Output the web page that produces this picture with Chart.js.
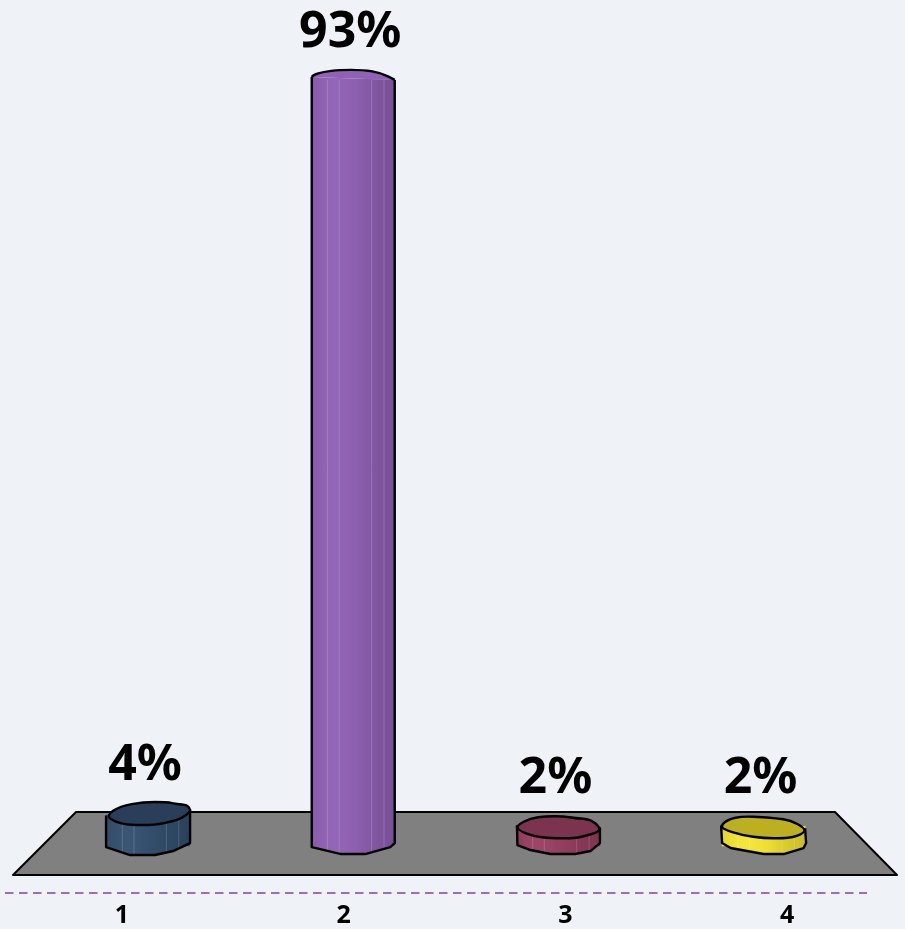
<!DOCTYPE html>
<html>
<head>
<meta charset="utf-8">
<title>Chart</title>
<script src="https://cdn.jsdelivr.net/npm/chart.js@4"></script>
<style>
  html, body { margin: 0; padding: 0; background: #eff3f8; }
  #wrap { position: relative; width: 905px; height: 929px; }
</style>
</head>
<body>
<div id="wrap"><canvas id="barChart"></canvas></div>
<script>
var categories = [1, 2, 3, 4];
var tickLabels = ['1', '2', '3', '4'];
var values = [3.7, 93, 2.4, 2.4];
var barColors = ['#34506f', '#9161b5', '#9a3f63', '#f5e633'];
var topColors = ['#2b3e59', null, '#7b334f', '#bdb020'];

// irregular outlines of the cylinders, offsets from the bar's own top / base
var topShapes = [
    [[-42,0],[-28,-9.5],[-5,-13.5],[19,-13.5],[29,-11.5],[39,-10.5],[42,-6.5],[42,-3.5],[34,2.5],[25,5.5],[7,9.5],[-18,9.5],[-33,6.5]],
    [[-41.5,-3],[-40,-5],[-30,-8],[-14,-10],[10,-10],[28,-7],[41.5,0]],
    [[-41.5,-1],[-28,-8],[-13,-10],[5,-10],[17,-8],[32,-7],[41.5,1],[40,6],[25,10],[17,12],[-8,12],[-25,10],[-40,4]],
    [[-42.5,-1],[-35,-7],[-21,-10],[0,-9],[12,-8],[27,-6],[41.5,2],[40,7],[29,11],[20,12],[0,12],[-21,9],[-40,3]]
];
var bottomShapes = [
    [[-42,1],[-18,9],[7,9],[25,5],[42,-3]],
    [[-41.5,1],[-12,8],[12,8],[37,1],[41.5,-3]],
    [[-41,-1],[-28,4],[-8,8],[17,8],[32,5],[41.5,-3]],
    [[-41.5,-3],[-33,2],[0,8],[20,8],[40,2],[42.5,-3]]
];
var streaks = [0.19, 0.33, 0.72, 0.87];
var labelLift = [36, 33, 33, 33];

function lineThrough(ctx, pts, cx, cy) {
    pts.forEach(function(p) { ctx.lineTo(cx + p[0], cy + p[1]); });
}

// soft outline through the shape's points
function smoothOutline(ctx, pts, cx, cy, closed) {
    var n = pts.length;
    if (closed) {
        ctx.moveTo(cx + (pts[n - 1][0] + pts[0][0]) / 2, cy + (pts[n - 1][1] + pts[0][1]) / 2);
    } else {
        ctx.moveTo(cx + pts[0][0], cy + pts[0][1]);
    }
    for (var i = closed ? 0 : 1; i < n - (closed ? 0 : 1); i++) {
        var next = pts[(i + 1) % n];
        ctx.quadraticCurveTo(cx + pts[i][0], cy + pts[i][1],
            cx + (pts[i][0] + next[0]) / 2, cy + (pts[i][1] + next[1]) / 2);
    }
    if (closed) ctx.closePath();
    else ctx.lineTo(cx + pts[n - 1][0], cy + pts[n - 1][1]);
}

// floor and the dashed axis line, under the bars
var floorPlugin = {
    id: 'floor',
    beforeDatasetsDraw: function(chart) {
        var ctx = chart.ctx, axis = chart.scales.xTicks;
        ctx.save();
        ctx.beginPath();
        ctx.moveTo(13, 875);
        ctx.lineTo(76, 812);
        ctx.lineTo(835, 812);
        ctx.lineTo(897, 875);
        ctx.closePath();
        ctx.fillStyle = '#808080';
        ctx.fill();
        ctx.strokeStyle = '#000';
        ctx.lineWidth = 2;
        ctx.lineJoin = 'round';
        ctx.stroke();

        ctx.beginPath();
        ctx.moveTo(5, axis.top);
        ctx.lineTo(867, axis.top);
        ctx.strokeStyle = '#9b6cc0';
        ctx.setLineDash([8.5, 5.5]);
        ctx.stroke();
        ctx.restore();
    }
};

// cylinder look and the % labels on top of the plain bars
var cylinderPlugin = {
    id: 'cylinder',
    afterDatasetsDraw: function(chart) {
        var ctx = chart.ctx;
        chart.getDatasetMeta(0).data.forEach(function(bar, i) {
            var top = topShapes[i], bottom = bottomShapes[i];
            var w = bar.width, left = bar.x - w / 2;
            var right = top.reduce(function(a, b) { return b[0] > a[0] ? b : a; });

            ctx.save();
            ctx.lineJoin = 'round';

            // side wall
            ctx.beginPath();
            ctx.moveTo(bar.x + top[0][0], bar.y + top[0][1]);
            lineThrough(ctx, bottom, bar.x, bar.base);
            ctx.lineTo(bar.x + right[0], bar.y + right[1]);
            ctx.closePath();
            ctx.fillStyle = barColors[i];
            ctx.fill();

            // darker right hand side
            var shade = ctx.createLinearGradient(left, 0, left + w, 0);
            shade.addColorStop(0, 'rgba(0,0,0,0.07)');
            shade.addColorStop(0.3, 'rgba(255,255,255,0.03)');
            shade.addColorStop(0.55, 'rgba(0,0,0,0.03)');
            shade.addColorStop(0.72, 'rgba(0,0,0,0.1)');
            shade.addColorStop(1, 'rgba(0,0,0,0.18)');
            ctx.save();
            ctx.clip();
            ctx.fillStyle = shade;
            ctx.fillRect(left - 3, bar.y - 20, w + 6, bar.base - bar.y + 40);
            ctx.strokeStyle = 'rgba(255,255,255,0.16)';
            ctx.lineWidth = 1;
            streaks.forEach(function(f) {
                ctx.beginPath();
                ctx.moveTo(left + w * f, bar.y);
                ctx.lineTo(left + w * f, bar.base + 10);
                ctx.stroke();
            });
            ctx.restore();

            ctx.strokeStyle = '#000';
            ctx.lineWidth = 2.4;
            ctx.beginPath();
            ctx.moveTo(bar.x + top[0][0], bar.y + top[0][1]);
            lineThrough(ctx, bottom, bar.x, bar.base);
            ctx.lineTo(bar.x + right[0], bar.y + right[1]);
            ctx.stroke();

            // top face
            ctx.beginPath();
            smoothOutline(ctx, top, bar.x, bar.y, !!topColors[i]);
            ctx.fillStyle = topColors[i] || barColors[i];
            ctx.fill();
            ctx.stroke();
            ctx.restore();

            // value label
            ctx.save();
            ctx.fillStyle = '#000';
            ctx.font = 'bold 50px "Noto Sans"';
            ctx.textAlign = 'center';
            ctx.textBaseline = 'alphabetic';
            ctx.fillText(Math.round(values[i]) + '%', bar.x - 3, bar.y - labelLift[i]);
            ctx.restore();
        });
    }
};

var ctxBar = document.getElementById('barChart').getContext('2d');
var barChart = new Chart(ctxBar, {
    type: 'bar',
    data: {
        labels: tickLabels,
        datasets: [{
            data: categories.map(function(c, i) { return { x: c, y: values[i] }; }),
            backgroundColor: barColors,
            barThickness: 83,
            xAxisID: 'x',
            yAxisID: 'y'
        }]
    },
    options: {
        responsive: true,
        maintainAspectRatio: false,
        animation: false,
        layout: { padding: { left: 11, right: 7, top: 0, bottom: 0 } },
        plugins: { legend: { display: false }, tooltip: { enabled: false } },
        scales: {
            x: { type: 'linear', display: false, min: 0.332, max: 4.655, offset: false },
            // tick labels sit on their own spacing, wider than the bars
            xTicks: {
                type: 'category',
                axis: 'x',
                position: 'bottom',
                offset: true,
                afterFit: function(scale) { scale.height = 36; },
                grid: { display: false, drawTicks: false },
                border: { display: false },
                ticks: {
                    maxRotation: 0,
                    padding: 8,
                    color: '#000',
                    font: { family: '"Noto Sans"', size: 25, weight: 'bold' }
                }
            },
            y: { display: false, min: -5.7, max: 102.7 }
        }
    },
    plugins: [floorPlugin, cylinderPlugin]
});
</script>
</body>
</html>
